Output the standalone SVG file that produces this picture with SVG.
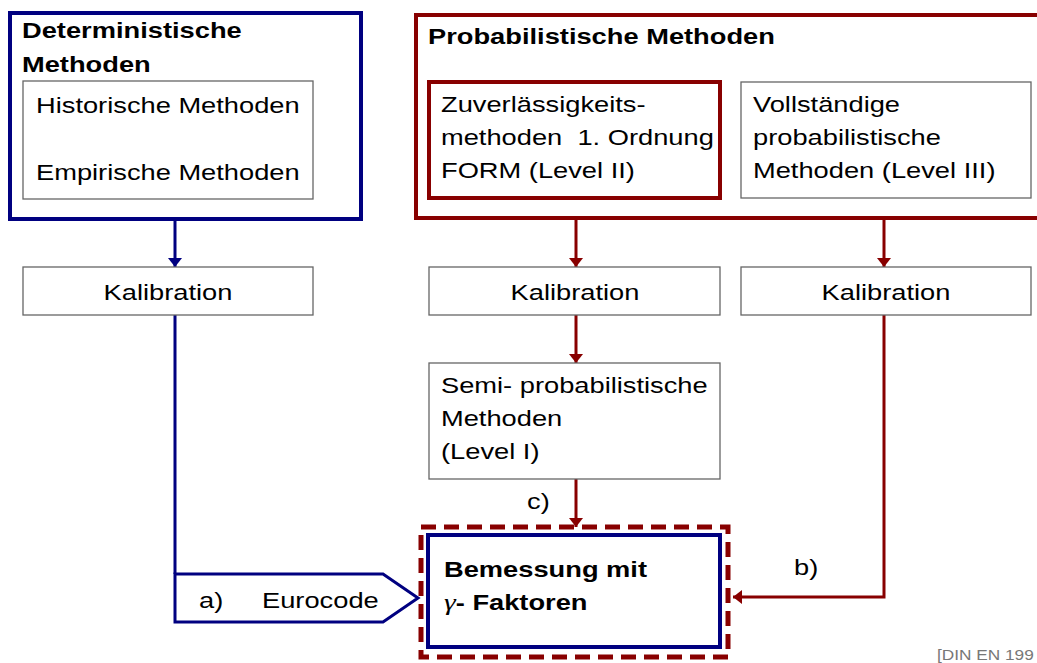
<svg xmlns="http://www.w3.org/2000/svg" width="1037" height="663" viewBox="0 0 1037 663">
<defs>
<style>
text{font-family:"Liberation Sans",Arial,sans-serif;font-size:22px;fill:#000}
.b{font-weight:bold}
.navy{fill:none;stroke:#000080;stroke-width:4}
.red{fill:none;stroke:#880000;stroke-width:4}
.gray{fill:#fff;stroke:#666;stroke-width:1.3}
.cn{fill:none;stroke:#000080;stroke-width:3}
.cr{fill:none;stroke:#880000;stroke-width:3}
.foot{font-size:15px;fill:#777}
</style>
<marker id="an" viewBox="0 0 9 14" refX="9" refY="7" markerWidth="9" markerHeight="14" markerUnits="userSpaceOnUse" orient="auto" preserveAspectRatio="none"><path d="M0,0 L9,7 L0,14 z" fill="#000080"/></marker>
<marker id="ar" viewBox="0 0 9 14" refX="9" refY="7" markerWidth="9" markerHeight="14" markerUnits="userSpaceOnUse" orient="auto" preserveAspectRatio="none"><path d="M0,0 L9,7 L0,14 z" fill="#880000"/></marker>
</defs>
<rect width="1037" height="663" fill="#fff"/>

<g id="connectors">
<path class="cn" d="M175,219 L175,267" marker-end="url(#an)"/>
<path class="cn" d="M175,315 L175,574"/>
<polygon points="175,574 383,574 418,598 383,622 175,622" fill="#fff" stroke="#000080" stroke-width="3"/>
<path class="cr" d="M576,218 L576,267" marker-end="url(#ar)"/>
<path class="cr" d="M884,218 L884,267" marker-end="url(#ar)"/>
<path class="cr" d="M576,315 L576,363" marker-end="url(#ar)"/>
<path class="cr" d="M576,479 L576,527" marker-end="url(#ar)"/>
<path class="cr" d="M884,315 L884,597 L733,597" marker-end="url(#ar)"/>
<text transform="translate(199,608) scale(1.24,1)">a)</text>
<text transform="translate(262,608) scale(1.24,1)">Eurocode</text>
<text transform="translate(527,509) scale(1.24,1)">c)</text>
<text transform="translate(794,575) scale(1.24,1)">b)</text>
</g>

<g id="deterministisch">
<rect class="navy" x="10" y="13" width="351" height="206" fill="#fff"/>
<text class="b" transform="translate(22,38) scale(1.24,1)">Deterministische</text>
<text class="b" transform="translate(22,72) scale(1.24,1)">Methoden</text>
<rect class="gray" x="23" y="81" width="290" height="118"/>
<text transform="translate(36,113) scale(1.24,1)">Historische Methoden</text>
<text transform="translate(36,180) scale(1.24,1)">Empirische Methoden</text>
</g>

<g id="probabilistisch">
<rect class="red" x="416" y="15" width="640" height="203"/>
<text class="b" transform="translate(428,44) scale(1.24,1)">Probabilistische Methoden</text>
</g>

<g id="form">
<rect class="red" x="429" y="82" width="291" height="116" fill="#fff"/>
<text transform="translate(441,112) scale(1.24,1)">Zuverlässigkeits-</text>
<text transform="translate(441,145) scale(1.24,1)">methoden&#160; 1. Ordnung</text>
<text transform="translate(441,178) scale(1.24,1)">FORM (Level II)</text>
</g>

<g id="vollstaendig">
<rect class="gray" x="741" y="82" width="290" height="116"/>
<text transform="translate(753,112) scale(1.24,1)">Vollständige</text>
<text transform="translate(753,145) scale(1.24,1)">probabilistische</text>
<text transform="translate(753,178) scale(1.24,1)">Methoden (Level III)</text>
</g>

<g id="kalibration1">
<rect class="gray" x="23" y="267" width="290" height="48"/>
<text text-anchor="middle" transform="translate(168,300) scale(1.24,1)">Kalibration</text>
</g>
<g id="kalibration2">
<rect class="gray" x="429" y="267" width="291" height="48"/>
<text text-anchor="middle" transform="translate(575,300) scale(1.24,1)">Kalibration</text>
</g>
<g id="kalibration3">
<rect class="gray" x="741" y="267" width="290" height="48"/>
<text text-anchor="middle" transform="translate(886,300) scale(1.24,1)">Kalibration</text>
</g>

<g id="semi">
<rect class="gray" x="429" y="363" width="291" height="116"/>
<text transform="translate(441,393) scale(1.24,1)">Semi- probabilistische</text>
<text transform="translate(441,426) scale(1.24,1)">Methoden</text>
<text transform="translate(441,459) scale(1.24,1)">(Level I)</text>
</g>

<g id="bemessung">
<rect x="421" y="527" width="307" height="130" fill="none" stroke="#880000" stroke-width="5" stroke-dasharray="15 8"/>
<rect class="navy" x="428" y="535" width="292" height="112" fill="#fff"/>
<text class="b" transform="translate(444,577) scale(1.24,1)">Bemessung mit</text>
<text class="b" transform="translate(444,610) scale(1.24,1)"><tspan font-family="Liberation Serif" font-style="italic" font-weight="normal" font-size="24">γ</tspan>- Faktoren</text>
</g>

<text class="foot" transform="translate(937,660) scale(1.15,1)">[DIN EN 199</text>
</svg>
